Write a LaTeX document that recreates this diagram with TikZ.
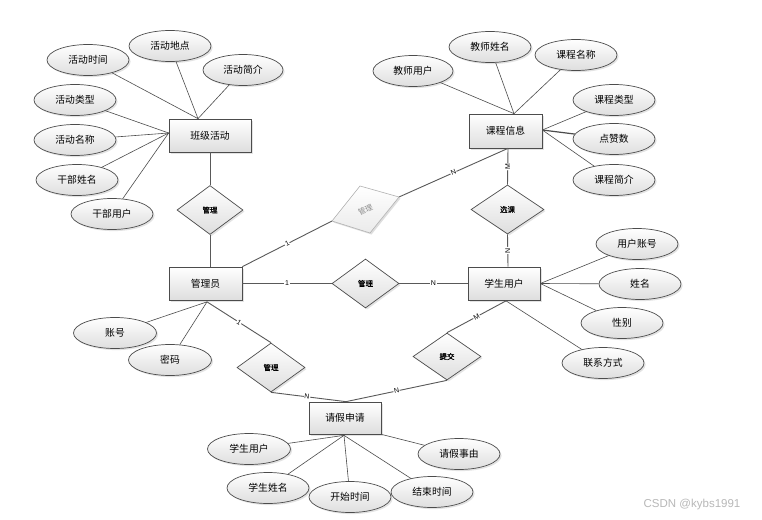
\documentclass[tikz,border=0pt]{standalone}
\usepackage{fontspec}
\setmainfont{Noto Sans CJK SC}
\newfontfamily\latinf{Liberation Sans}
\newfontfamily\cjkbold{Noto Sans CJK SC}[FakeBold=1.3]
\usetikzlibrary{shapes.geometric,shadows,calc}
\tikzset{
  boxshade/.style={top color=white,bottom color=black!13,draw=black!70,line width=0.7pt,
    drop shadow={shadow xshift=1.6pt,shadow yshift=-1.6pt,opacity=0.22}},
  ent/.style={boxshade,rectangle,minimum width=73pt,minimum height=33pt,inner sep=0pt,
    font=\fontsize{9.8}{11}\selectfont},
  attr/.style={boxshade,ellipse,minimum width=82pt,minimum height=31pt,inner sep=0pt,
    font=\fontsize{9.8}{11}\selectfont},
  rel/.style={boxshade,diamond,minimum width=67pt,minimum height=49pt,inner sep=0pt,
    font=\cjkbold\fontsize{7.5}{9}\selectfont},
  lk/.style={draw=black!70,line width=0.6pt},
  rl/.style={draw=black!65,line width=0.9pt},
  card/.style={font=\latinf\fontsize{7}{8}\selectfont,fill=white,inner sep=0.6pt,sloped,pos=0.5},
  cardr/.style={font=\latinf\fontsize{7}{8}\selectfont,fill=white,inner sep=0.6pt,rotate=90,pos=0.5}
}
\begin{document}
\begin{tikzpicture}[x=1pt,y=-1pt]
\fill[white] (0,0) rectangle (762,519);
\useasboundingbox (0,0) rectangle (762,519);

% entities
\node[ent,minimum width=82pt] (ba) at (210,135.5) {班级活动};
\node[ent,minimum height=34pt] (kc) at (505.5,131) {课程信息};
\node[ent] (gly) at (205.5,283.5) {管理员};
\node[ent,minimum width=72pt] (xs) at (504,283.5) {学生用户};
\node[ent,minimum width=72pt,minimum height=32pt] (qj) at (345,418) {请假申请};

% relationships
\node[rel,minimum width=66pt] (r1) at (210,210) {管理};
\node[rel] (r2) at (365.5,283.5) {管理};
\node[rel,minimum width=73pt] (r3) at (507.5,209.5) {选课};
\node[rel,minimum width=68pt] (r4) at (271,367.5) {管理};
\node[rel,minimum width=68pt,minimum height=47pt] (r5) at (447,356.5) {提交};

% gray skewed diamond
\coordinate (gL) at (332,221);
\coordinate (gT) at (360,186);
\coordinate (gR) at (399,197);
\coordinate (gB) at (370,233);
\fill[black!25,opacity=0.5] ($(gL)+(1.5,1.5)$) -- ($(gT)+(1.5,1.5)$) -- ($(gR)+(1.5,1.5)$) -- ($(gB)+(1.5,1.5)$) -- cycle;
\shade[top color=white,bottom color=black!8,draw=black!30,line width=0.6pt] (gL) -- (gT) -- (gR) -- (gB) -- cycle;
\node[font=\fontsize{7.5}{9}\selectfont,text=black!45,rotate=25,inner sep=0pt] (gtxt) at (365.5,209.5) {管理};

% attributes
\node[attr] (a1) at (88,60) {活动时间};
\node[attr] (a2) at (170,46) {活动地点};
\node[attr,minimum width=80pt] (a3) at (243,70) {活动简介};
\node[attr] (a4) at (75,100) {活动类型};
\node[attr] (a5) at (75,140) {活动名称};
\node[attr] (a6) at (77,180) {干部姓名};
\node[attr] (a7) at (112,214) {干部用户};

\node[attr,minimum width=80pt] (c1) at (413,71) {教师用户};
\node[attr] (c2) at (490,47) {教师姓名};
\node[attr] (c3) at (576,55) {课程名称};
\node[attr] (c4) at (614,100) {课程类型};
\node[attr] (c5) at (614,139) {点赞数};
\node[attr] (c6) at (614,180) {课程简介};

\node[attr] (s1) at (637,244) {用户账号};
\node[attr] (s2) at (640,284) {姓名};
\node[attr] (s3) at (622,323) {性别};
\node[attr] (s4) at (603,363) {联系方式};

\node[attr,minimum width=83pt] (g1) at (115,333) {账号};
\node[attr,minimum width=83pt] (g2) at (170,360) {密码};

\node[attr,minimum width=83pt] (q1) at (249,449) {学生用户};
\node[attr] (q2) at (268,488) {学生姓名};
\node[attr] (q3) at (350,497) {开始时间};
\node[attr] (q4) at (432,492) {结束时间};
\node[attr] (q5) at (459,454) {请假事由};

% attachment points
\coordinate (baT) at ($(ba.north)+(-12,0)$);
\coordinate (baL) at ($(ba.west)+(0,-2.5)$);
\coordinate (kcT) at ($(kc.north)+(8.5,0)$);
\coordinate (kcR) at ($(kc.east)+(0,-1)$);
\coordinate (kcB) at ($(kc.south)+(2.5,0)$);
\coordinate (glyT) at ($(gly.north)+(4.5,0)$);
\coordinate (glyB) at ($(gly.south)+(1.5,1.5)$);
\coordinate (xsT) at ($(xs.north)+(4,0)$);
\coordinate (xsB) at ($(xs.south)+(2,0.5)$);
\coordinate (qjT) at ($(qj.north)+(1,0)$);
\coordinate (qjB) at ($(qj.south)+(-1,1)$);

% attribute links
\foreach \n in {a1,a2,a3} \draw[lk] (\n) -- (baT);
\foreach \n in {a4,a5,a6,a7} \draw[lk] (\n) -- (baL);
\foreach \n in {c1,c2,c3} \draw[lk] (\n) -- (kcT);
\draw[lk] (c4) -- (kcR);
\draw[lk,line width=1.2pt] (c5) -- (kcR);
\draw[lk] (c6) -- (kcR);
\foreach \n in {s1,s2,s3} \draw[lk] (\n) -- (xs.east);
\draw[lk] (s4) -- (xsB);
\foreach \n in {g1,g2} \draw[lk] (\n) -- (glyB);
\foreach \n in {q1,q2,q3,q4} \draw[lk] (\n) -- (qjB);
\draw[lk] (q5) -- (qj.south east);

% relationship links
\draw[rl] (ba.south) -- (r1.north);
\draw[rl] (r1.south) -- (glyT);
\draw[rl] (gly.east) -- node[card] {1} (r2.west);
\draw[rl] (r2.east) -- node[card] {N} (xs.west);
\draw[rl] (kcB) -- node[cardr] {M} (r3.north);
\draw[rl] (r3.south) -- node[cardr] {N} (xsT);
\draw[rl] (gly.north east) -- node[card] {1} (gL);
\draw[rl] (gR) -- node[card] {N} (kcB);
\draw[rl] (glyB) -- node[card] {1} (r4.north);
\draw[rl] (r4.south) -- node[card,pos=0.48] {N} (qjT);
\draw[rl] (r5.south) -- node[card] {N} (qjT);
\draw[rl] (r5.north) -- node[card] {M} (xsB);

% watermark
\node[font=\latinf\fontsize{11.5}{13}\selectfont,text=black!28] (wm) at (692,505) {CSDN @kybs1991};
\end{tikzpicture}
\end{document}
